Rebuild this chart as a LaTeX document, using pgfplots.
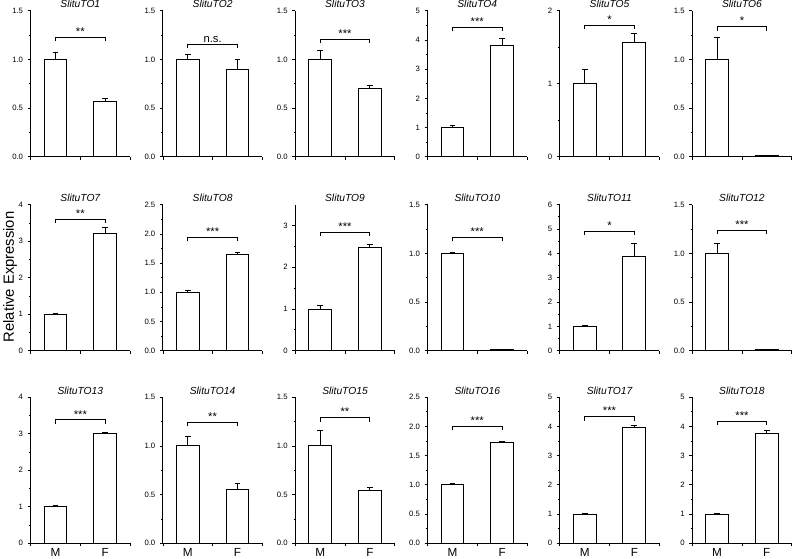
\documentclass[border=0pt]{standalone}
\usepackage{fontspec}
\setmainfont{Liberation Sans}
\usepackage{pgfplots}
\pgfplotsset{compat=1.18}
\pgfplotsset{
 panel/.style={
  scale only axis, width=74.5pt, height=109.5pt, anchor=south west,
  axis lines=left, axis line style={-, line width=0.7pt},
  xmin=0.5, xmax=2.5, ymin=0,
  xtick={0.5,1.5,2.5}, xticklabels={},
  minor y tick num=1,
  tick align=outside, major tick length=2.2pt, minor tick length=1.3pt,
  every tick/.style={black, line width=0.6pt},
  tick label style={font=\fontsize{5.8}{6}\selectfont},
  /pgf/number format/assume math mode=true,
  title style={font=\fontsize{7.7}{8}\selectfont\itshape, at={(0.5,1)}, anchor=south, yshift=-5pt, inner sep=1pt},
  clip=false,
 },
 dec/.style={yticklabel style={/pgf/number format/fixed, /pgf/number format/fixed zerofill, /pgf/number format/precision=1}},
 int/.style={yticklabel style={/pgf/number format/fixed, /pgf/number format/precision=0}},
 bars/.style={ybar, bar width=0.46, fill=white, draw=black, line width=0.75pt,
   error bars/.cd, y dir=plus, y explicit,
   error bar style={line width=0.6pt, black},
   error mark options={rotate=90, mark size=2.2pt, line width=0.6pt, black}},
 mf/.style={extra x ticks={1,2}, extra x tick labels={M,F},
   extra x tick style={major tick length=0pt, xticklabel style={font=\fontsize{8.8}{9}\selectfont}}},
}
\newcommand{\sig}[2]{%
 \draw[line width=0.6pt] ([yshift=-3pt]axis cs:1,#1) -- (axis cs:1,#1) -- (axis cs:2,#1) -- ([yshift=-3pt]axis cs:2,#1);
 \node[font=\fontsize{8.4}{9}\selectfont, anchor=south, inner sep=1.2pt] at (axis cs:1.5,#1) {#2};}
\begin{document}
\begin{tikzpicture}
\path[use as bounding box] (0,0) rectangle (595.5pt,419.25pt);
% Row 1
\begin{axis}[panel, dec, at={(23.0pt,301.7pt)}, ymax=1.5, ytick={0,0.5,1,1.5}, title=SlituTO1]
\addplot[bars] coordinates {(1,1.0) +- (0,0.07) (2,0.57) +- (0,0.03)};
\sig{1.23}{**}
\end{axis}
\begin{axis}[panel, dec, at={(122.2pt,301.7pt)}, ymax=1.5, ytick={0,0.5,1,1.5}, title=SlituTO2]
\addplot[bars] coordinates {(1,1.0) +- (0,0.05) (2,0.90) +- (0,0.10)};
\sig{1.155}{n.s.}
\end{axis}
\begin{axis}[panel, dec, at={(221.5pt,301.7pt)}, ymax=1.5, ytick={0,0.5,1,1.5}, title=SlituTO3]
\addplot[bars] coordinates {(1,1.0) +- (0,0.09) (2,0.70) +- (0,0.03)};
\sig{1.206}{***}
\end{axis}
\begin{axis}[panel, int, at={(320.7pt,301.7pt)}, ymax=5, ytick={0,1,2,3,4,5}, title=SlituTO4]
\addplot[bars] coordinates {(1,1.0) +- (0,0.08) (2,3.80) +- (0,0.25)};
\sig{4.43}{***}
\end{axis}
\begin{axis}[panel, int, at={(419.9pt,301.7pt)}, ymax=2, ytick={0,1,2}, title=SlituTO5]
\addplot[bars] coordinates {(1,1.0) +- (0,0.20) (2,1.57) +- (0,0.12)};
\sig{1.80}{*}
\end{axis}
\begin{axis}[panel, dec, at={(519.2pt,301.7pt)}, ymax=1.5, ytick={0,0.5,1,1.5}, title=SlituTO6]
\addplot[bars] coordinates {(1,1.0) +- (0,0.23) (2,0.012) +- (0,0.003)};
\sig{1.336}{*}
\end{axis}
% Row 2
\begin{axis}[panel, int, at={(23.0pt,156.2pt)}, ymax=4, ytick={0,1,2,3,4}, title=SlituTO7]
\addplot[bars] coordinates {(1,1.0) +- (0,0.01) (2,3.20) +- (0,0.17)};
\sig{3.6}{**}
\end{axis}
\begin{axis}[panel, dec, at={(122.2pt,156.2pt)}, ymax=2.5, ytick={0,0.5,1,1.5,2,2.5}, title=SlituTO8]
\addplot[bars] coordinates {(1,1.0) +- (0,0.04) (2,1.64) +- (0,0.05)};
\sig{1.94}{***}
\end{axis}
\begin{axis}[panel, int, at={(221.5pt,156.2pt)}, ymax=3.5, ytick={0,1,2,3}, title=SlituTO9]
\addplot[bars] coordinates {(1,1.0) +- (0,0.08) (2,2.48) +- (0,0.08)};
\sig{2.84}{***}
\end{axis}
\begin{axis}[panel, dec, at={(320.7pt,156.2pt)}, ymax=1.5, ytick={0,0.5,1,1.5}, title=SlituTO10]
\addplot[bars] coordinates {(1,1.0) +- (0,0.01) (2,0.008) +- (0,0.002)};
\sig{1.165}{***}
\end{axis}
\begin{axis}[panel, int, at={(419.9pt,156.2pt)}, ymax=6, ytick={0,1,2,3,4,5,6}, title=SlituTO11]
\addplot[bars] coordinates {(1,1.0) +- (0,0.03) (2,3.87) +- (0,0.55)};
\sig{4.92}{*}
\end{axis}
\begin{axis}[panel, dec, at={(519.2pt,156.2pt)}, ymax=1.5, ytick={0,0.5,1,1.5}, title=SlituTO12]
\addplot[bars] coordinates {(1,1.0) +- (0,0.10) (2,0.008) +- (0,0.002)};
\sig{1.24}{***}
\end{axis}
% Row 3
\begin{axis}[panel, mf, int, at={(23.0pt,11.8pt)}, ymax=4, ytick={0,1,2,3,4}, title=SlituTO13]
\addplot[bars] coordinates {(1,1.0) +- (0,0.04) (2,3.02) +- (0,0.03)};
\sig{3.38}{***}
\end{axis}
\begin{axis}[panel, mf, dec, at={(122.2pt,11.8pt)}, ymax=1.5, ytick={0,0.5,1,1.5}, title=SlituTO14]
\addplot[bars] coordinates {(1,1.0) +- (0,0.10) (2,0.55) +- (0,0.06)};
\sig{1.243}{**}
\end{axis}
\begin{axis}[panel, mf, dec, at={(221.5pt,11.8pt)}, ymax=1.5, ytick={0,0.5,1,1.5}, title=SlituTO15]
\addplot[bars] coordinates {(1,1.0) +- (0,0.16) (2,0.54) +- (0,0.03)};
\sig{1.29}{**}
\end{axis}
\begin{axis}[panel, mf, dec, at={(320.7pt,11.8pt)}, ymax=2.5, ytick={0,0.5,1,1.5,2,2.5}, title=SlituTO16]
\addplot[bars] coordinates {(1,1.0) +- (0,0.03) (2,1.72) +- (0,0.02)};
\sig{2.0}{***}
\end{axis}
\begin{axis}[panel, mf, int, at={(419.9pt,11.8pt)}, ymax=5, ytick={0,1,2,3,4,5}, title=SlituTO17]
\addplot[bars] coordinates {(1,1.0) +- (0,0.03) (2,3.95) +- (0,0.10)};
\sig{4.34}{***}
\end{axis}
\begin{axis}[panel, mf, int, at={(519.2pt,11.8pt)}, ymax=5, ytick={0,1,2,3,4,5}, title=SlituTO18]
\addplot[bars] coordinates {(1,1.0) +- (0,0.01) (2,3.75) +- (0,0.12)};
\sig{4.19}{***}
\end{axis}
\node[rotate=90, font=\fontsize{11.1}{12}\selectfont] at (7.5pt,211.5pt) {Relative Expression};
\end{tikzpicture}
\end{document}
